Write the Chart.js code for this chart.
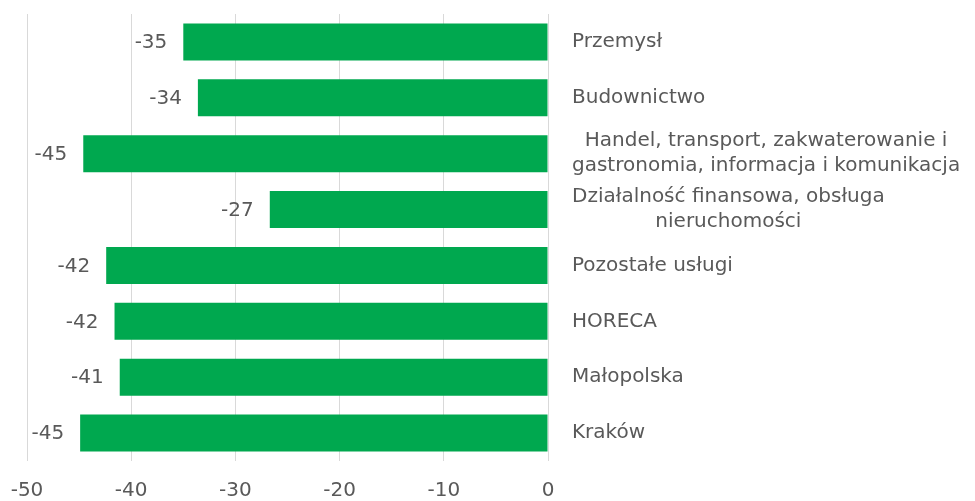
<!DOCTYPE html>
<html>
<head>
<meta charset="utf-8">
<script src="https://cdn.jsdelivr.net/npm/chart.js@4"></script>
<style>
  html, body { margin: 0; padding: 0; background: #fff; }
  #wrap { width: 975px; height: 501px; }
</style>
</head>
<body>
<div id="wrap"><canvas id="wykres"></canvas></div>
<script>
// dane
const kategorie = [
  ["Przemysł"],
  ["Budownictwo"],
  ["Handel, transport, zakwaterowanie i", "gastronomia, informacja i komunikacja"],
  ["Działalność finansowa, obsługa", "nieruchomości"],
  ["Pozostałe usługi"],
  ["HORECA"],
  ["Małopolska"],
  ["Kraków"]
];
const wartosci = [-35.0, -33.6, -44.6, -26.7, -42.4, -41.6, -41.1, -44.9];
const osX = { min: -50, max: 0, krok: 10 };

const szary = "#595959";
const czcionka = "'DejaVu Sans', sans-serif";

// etykiety kategorii (po prawej) i wartosci (przy koncu slupka)
const etykiety = {
  id: "etykiety",
  afterDatasetsDraw(chart) {
    const ctx = chart.ctx;
    const area = chart.chartArea;
    const meta = chart.getDatasetMeta(0);
    ctx.save();
    ctx.fillStyle = szary;
    ctx.textBaseline = "middle";

    ctx.font = "20px " + czcionka;
    ctx.textAlign = "right";
    meta.data.forEach((bar, i) => {
      ctx.fillText(Math.round(wartosci[i]).toString(), bar.x - 16, bar.y + 1);
    });

    ctx.font = "20px " + czcionka;
    ctx.textAlign = "center";
    const x0 = area.right + 24;
    const lh = 25;
    meta.data.forEach((bar, i) => {
      const linie = kategorie[i];
      const szer = Math.max(...linie.map(l => ctx.measureText(l).width));
      const y0 = bar.y - (linie.length - 1) * lh / 2;
      linie.forEach((l, j) => {
        ctx.fillText(l, x0 + szer / 2, y0 + j * lh);
      });
    });
    ctx.restore();
  }
};

const ctx = document.getElementById("wykres").getContext("2d");
const wykres = new Chart(ctx, {
  type: "bar",
  data: {
    labels: kategorie.map(k => k.join(" ")),
    datasets: [
      {
        data: wartosci,
        backgroundColor: "#00A84F",
        borderWidth: 0,
        barPercentage: 0.66,
        categoryPercentage: 1
      }
    ]
  },
  options: {
    indexAxis: "y",
    responsive: true,
    maintainAspectRatio: false,
    animation: false,
    layout: { padding: { left: 27, right: 427, top: 14, bottom: -20 } },
    plugins: {
      legend: { display: false },
      tooltip: { enabled: false }
    },
    scales: {
      x: {
        min: osX.min,
        max: osX.max,
        ticks: {
          stepSize: osX.krok,
          color: szary,
          padding: 18,
          font: { family: czcionka, size: 20 }
        },
        grid: { color: "#d9d9d9", drawTicks: false },
        border: { display: false },
        afterFit(scale) {
          scale.paddingLeft = 0;
          scale.paddingRight = 0;
        }
      },
      y: {
        display: false
      }
    }
  },
  plugins: [etykiety]
});
</script>
</body>
</html>
